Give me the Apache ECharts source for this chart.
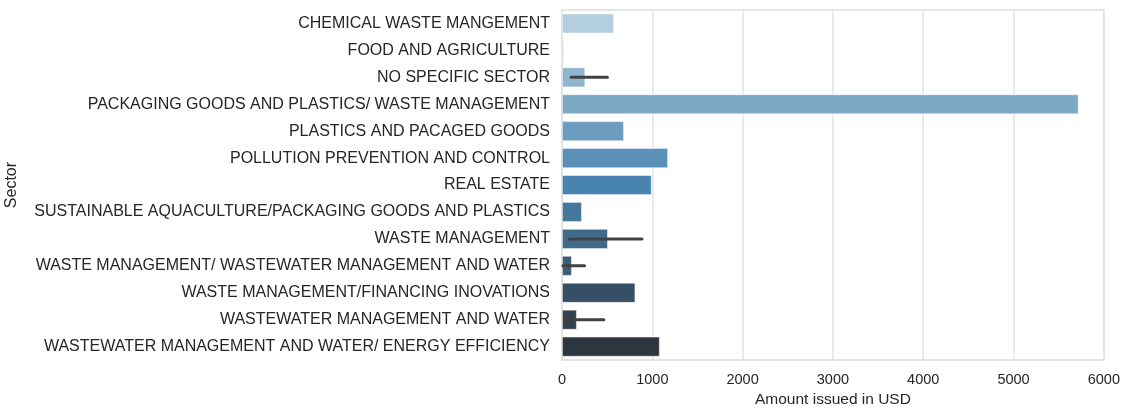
<!DOCTYPE html>
<html>
<head>
<meta charset="utf-8">
<script src="https://cdn.jsdelivr.net/npm/echarts@6/dist/echarts.min.js"></script>
<style>
  html, body { margin: 0; padding: 0; background: #fff; }
  #chart { width: 1123px; height: 413px; }
</style>
</head>
<body>
<div id="chart"></div>
<script>
// sectors, top to bottom
const sectors = [
  'CHEMICAL WASTE MANGEMENT',
  'FOOD AND AGRICULTURE',
  'NO SPECIFIC SECTOR',
  'PACKAGING GOODS AND PLASTICS/ WASTE MANAGEMENT',
  'PLASTICS AND PACAGED GOODS',
  'POLLUTION PREVENTION AND CONTROL',
  'REAL ESTATE',
  'SUSTAINABLE AQUACULTURE/PACKAGING GOODS AND PLASTICS',
  'WASTE MANAGEMENT',
  'WASTE MANAGEMENT/ WASTEWATER MANAGEMENT AND WATER',
  'WASTE MANAGEMENT/FINANCING INOVATIONS',
  'WASTEWATER MANAGEMENT AND WATER',
  'WASTEWATER MANAGEMENT AND WATER/ ENERGY EFFICIENCY'
]
// mean amount issued
const amounts = [575, 20, 257, 5720, 686, 1174, 993, 220, 508, 109, 812, 164, 1082]
// confidence interval low / high (null = no error bar)
const errLow = [null, null, 102, null, null, null, null, null, 83, 10, null, 28, null]
const errHigh = [null, null, 502, null, null, null, null, null, 886, 250, null, 464, null]
const xTicks = [0, 1000, 2000, 3000, 4000, 5000, 6000]

// Blues_d like palette, desaturated as seaborn barplot does
function hexToRgb (h) {
  return [1, 3, 5].map(i => parseInt(h.substr(i, 2), 16) / 255)
}
function desat (rgb, p) {
  let [r, g, b] = rgb
  let mx = Math.max(r, g, b), mn = Math.min(r, g, b)
  let l = (mx + mn) / 2, s = 0, h = 0
  if (mx !== mn) {
    let d = mx - mn
    s = l > 0.5 ? d / (2 - mx - mn) : d / (mx + mn)
    if (mx === r) h = (g - b) / d + (g < b ? 6 : 0)
    else if (mx === g) h = (b - r) / d + 2
    else h = (r - g) / d + 4
    h /= 6
  }
  s *= p
  function hue (p, q, t) {
    if (t < 0) t += 1
    if (t > 1) t -= 1
    if (t < 1 / 6) return p + (q - p) * 6 * t
    if (t < 1 / 2) return q
    if (t < 2 / 3) return p + (q - p) * (2 / 3 - t) * 6
    return p
  }
  let q = l < 0.5 ? l * (1 + s) : l + s - l * s
  let pp = 2 * l - q
  return [hue(pp, q, h + 1 / 3), hue(pp, q, h), hue(pp, q, h - 1 / 3)]
}
function palette (n) {
  const anchors = ['#abd0e6', '#3787c0', '#2a3541'].map(hexToRgb)
  const out = []
  for (let i = 0; i < n; i++) {
    let t = i / (n - 1) * 2
    let k = Math.min(1, Math.floor(t))
    let f = t - k
    let c = anchors[k].map((v, j) => v + (anchors[k + 1][j] - v) * f)
    c = desat(c, 0.75)
    out.push('rgb(' + c.map(v => Math.round(v * 255)).join(',') + ')')
  }
  return out
}
const colors = palette(sectors.length)

const chart = echarts.init(document.getElementById('chart'))
chart.setOption({
  animation: false,
  textStyle: { fontFamily: 'Liberation Sans, Arial, sans-serif' },
  grid: {
    left: 562,
    right: 19,
    top: 10,
    bottom: 50,
    show: true,
    borderColor: '#dcdcdc',
    borderWidth: 1.5
  },
  xAxis: {
    type: 'value',
    min: 0,
    max: 6000,
    interval: 1000,
    name: 'Amount issued in USD',
    nameLocation: 'middle',
    nameGap: 31,
    nameTextStyle: { color: '#262626', fontSize: 15.5 },
    axisLine: { show: false },
    axisTick: { show: false },
    axisLabel: {
      color: '#262626',
      fontSize: 14.5,
      margin: 12,
      customValues: xTicks,
      formatter: v => String(v)
    },
    splitLine: { lineStyle: { color: '#e3e3e3', width: 1.5 } }
  },
  yAxis: {
    type: 'category',
    inverse: true,
    data: sectors,
    name: 'Sector',
    nameLocation: 'middle',
    nameGap: 542,
    nameTextStyle: { color: '#262626', fontSize: 16 },
    axisLine: { show: false },
    axisTick: { show: false },
    axisLabel: { color: '#262626', fontSize: 16, margin: 12 },
    splitLine: { show: false }
  },
  series: [
    {
      type: 'bar',
      barWidth: '74%',
      data: amounts.map((v, i) => ({
        value: v,
        itemStyle: { color: colors[i], borderColor: 'rgba(255,255,255,0.6)', borderWidth: 0.8 }
      }))
    },
    {
      type: 'custom',
      z: 5,
      data: sectors.map((s, i) => [i, errLow[i], errHigh[i]]).filter(d => d[1] !== null),
      renderItem: function (params, api) {
        const a = api.coord([api.value(1), api.value(0)])
        const b = api.coord([api.value(2), api.value(0)])
        return {
          type: 'line',
          shape: { x1: a[0], y1: a[1], x2: b[0], y2: b[1] },
          style: { stroke: '#424242', lineWidth: 3, lineCap: 'round' }
        }
      },
      encode: { x: [1, 2], y: 0 }
    }
  ]
})
</script>
</body>
</html>
